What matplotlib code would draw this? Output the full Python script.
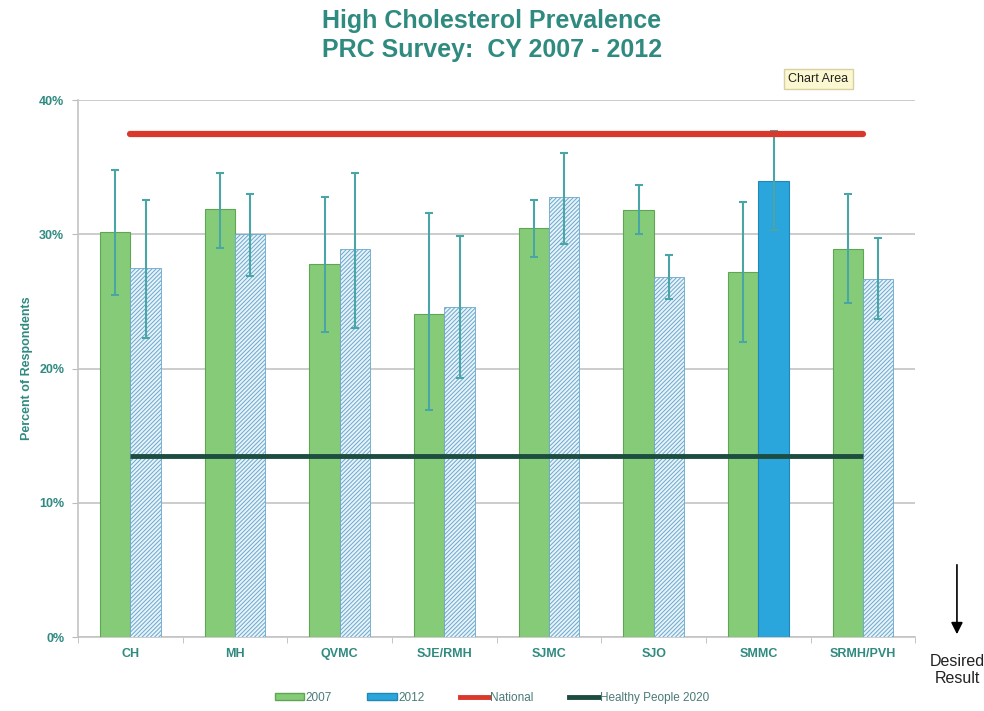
import numpy as np
import matplotlib.pyplot as plt
from matplotlib.patches import Patch
from matplotlib.lines import Line2D

# Data
sites = ["CH", "MH", "QVMC", "SJE/RMH", "SJMC", "SJO", "SMMC", "SRMH/PVH"]
val_2007 = [30.2, 31.9, 27.8, 24.1, 30.5, 31.8, 27.2, 28.9]
lo_2007 = [25.5, 29.0, 22.7, 16.9, 28.3, 30.0, 22.0, 24.9]
hi_2007 = [34.8, 34.6, 32.8, 31.6, 32.6, 33.7, 32.4, 33.0]
val_2012 = [27.5, 30.0, 28.9, 24.6, 32.8, 26.8, 34.0, 26.7]
lo_2012 = [22.3, 26.9, 23.0, 19.3, 29.3, 25.2, 30.3, 23.7]
hi_2012 = [32.6, 33.0, 34.6, 29.9, 36.1, 28.5, 37.7, 29.7]
national = 37.5
healthy_people = 13.5
solid_2012 = ["SMMC"]

teal = "#2f8a80"
green = "#86cc78"
green_edge = "#5ea654"
blue = "#2aa6dc"
err_col = "#4aa5a6"

plt.rcParams.update({"font.family": ["Liberation Sans", "DejaVu Sans"],
                     "hatch.linewidth": 0.7})

fig = plt.figure(figsize=(9.84, 7.11), dpi=100)
ax = fig.add_axes([0.0793, 0.104, 0.851, 0.755])

x = np.arange(len(sites))
w = 0.29
v07 = np.array(val_2007)
v12 = np.array(val_2012)
ax.bar(x - w / 2, v07, w, color=green, edgecolor=green_edge, linewidth=0.8, zorder=3)
for i, s in enumerate(sites):
    if s in solid_2012:
        ax.bar(x[i] + w / 2, v12[i], w, color=blue, edgecolor="#1f88b8", linewidth=0.8, zorder=3)
    else:
        ax.bar(x[i] + w / 2, v12[i], w, color="#e8f3fa", edgecolor="#6aa8cc",
               hatch="////////", linewidth=0.6, zorder=3)

ax.errorbar(x - w / 2, v07, yerr=[v07 - np.array(lo_2007), np.array(hi_2007) - v07],
            fmt="none", ecolor=err_col, elinewidth=1.5, capsize=3, capthick=1.5, zorder=4)
ax.errorbar(x + w / 2, v12, yerr=[v12 - np.array(lo_2012), np.array(hi_2012) - v12],
            fmt="none", ecolor=err_col, elinewidth=1.5, capsize=3, capthick=1.5, zorder=4)

ax.plot([x[0], x[-1]], [national, national], color="#d9382b", linewidth=4.5,
        solid_capstyle="round", zorder=5)
ax.plot([x[0], x[-1]], [healthy_people, healthy_people], color="#1c4d40", linewidth=3.5,
        solid_capstyle="butt", zorder=5)

ax.set_xlim(-0.5, len(sites) - 0.5)
ax.set_ylim(0, 40)
ax.set_yticks([0, 10, 20, 30, 40])
ax.set_yticklabels([f"{t}%" for t in [0, 10, 20, 30, 40]], color=teal,
                   fontweight="bold", fontsize=9)
ax.set_xticks(x)
ax.set_xticklabels(sites, color=teal, fontweight="bold", fontsize=9)
ax.set_xticks(np.arange(len(sites) + 1) - 0.5, minor=True)
ax.tick_params(axis="x", which="major", length=0, pad=8)
ax.tick_params(axis="x", which="minor", length=4, color="#bbbbbb")
ax.tick_params(axis="y", length=4, color="#bbbbbb", pad=6)
ax.grid(axis="y", color="#c4c4c4", linewidth=1.2, zorder=0)
ax.set_axisbelow(True)
for side in ["top", "right"]:
    ax.spines[side].set_visible(False)
for side in ["left", "bottom"]:
    ax.spines[side].set_color("#c4c4c4")
    ax.spines[side].set_linewidth(1.2)
ax.set_ylabel("Percent of Respondents", color=teal, fontweight="bold", fontsize=9, labelpad=4)

fig.text(0.5, 0.988, "High Cholesterol Prevalence\nPRC Survey:  CY 2007 - 2012",
         ha="center", va="top", fontsize=18, fontweight="bold", color=teal,
         family=["Liberation Sans Narrow", "Liberation Sans", "DejaVu Sans"], linespacing=1.3)

fig.text(0.8315, 0.889, "Chart Area", ha="center", va="center", fontsize=9, color="#222222",
         family=["Liberation Sans Narrow", "Liberation Sans", "DejaVu Sans"],
         bbox=dict(boxstyle="square,pad=0.35", facecolor="#fbf7d0", edgecolor="#d8d0a0"))

# Desired result arrow
fig.add_artist(plt.Annotation("", xy=(0.9725, 1 - 637 / 711), xytext=(0.9725, 1 - 562 / 711),
                              xycoords="figure fraction",
                              arrowprops=dict(arrowstyle="-|>,head_width=0.35,head_length=0.7",
                                              color="black", lw=1.2)))
fig.text(0.9725, 1 - 670 / 711, "Desired\nResult", ha="center", va="center", fontsize=11.5,
         color="#222222", linespacing=1.2)

handles = [Patch(facecolor=green, edgecolor=green_edge),
           Patch(facecolor=blue, edgecolor="#1f88b8"),
           Line2D([0], [0], color="#d9382b", lw=3.5),
           Line2D([0], [0], color="#1c4d40", lw=3.5)]
fig.legend(handles, ["2007", "2012", "National", "Healthy People 2020"],
           loc="center", bbox_to_anchor=(0.5, 1 - 698 / 711), ncol=4, frameon=False,
           fontsize=8.5, labelcolor="#4a7a78", handlelength=2.5, handleheight=0.5,
           handletextpad=0.1, columnspacing=3.0)

fig.savefig("out.png", dpi=100)
